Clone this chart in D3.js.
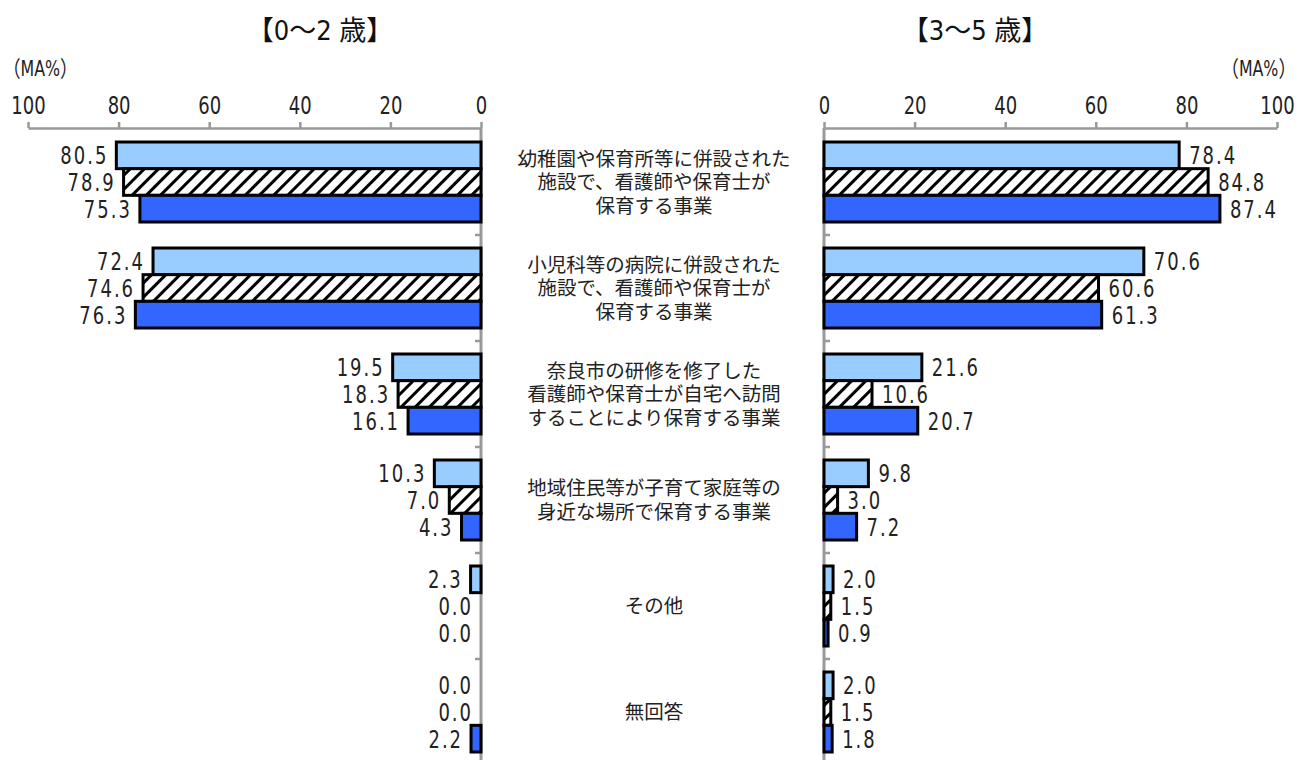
<!DOCTYPE html>
<html>
<head>
<meta charset="utf-8">
<script src="https://cdn.jsdelivr.net/npm/d3@7"></script>
<style>
  body { margin: 0; background: #fff; }
  .num { font-family: "Liberation Sans Narrow", "DejaVu Sans Condensed", "Noto Sans CJK JP", sans-serif; }
  .cat { font-family: "Noto Sans CJK JP", sans-serif; }
</style>
</head>
<body>
<svg id="chart"></svg>
<script>
var categories = [
  ["幼稚園や保育所等に併設された", "施設で、看護師や保育士が", "保育する事業"],
  ["小児科等の病院に併設された", "施設で、看護師や保育士が", "保育する事業"],
  ["奈良市の研修を修了した", "看護師や保育士が自宅へ訪問", "することにより保育する事業"],
  ["地域住民等が子育て家庭等の", "身近な場所で保育する事業"],
  ["その他"],
  ["無回答"]
];
var series = ["s1", "s2", "s3"];
var ticks = [0, 20, 40, 60, 80, 100];

// 0~2歳
var left1 = [80.5, 72.4, 19.5, 10.3, 2.3, 0.0];
var left2 = [78.9, 74.6, 18.3, 7.0, 0.0, 0.0];
var left3 = [75.3, 76.3, 16.1, 4.3, 0.0, 2.2];
// 3~5歳
var right1 = [78.4, 70.6, 21.6, 9.8, 2.0, 2.0];
var right2 = [84.8, 60.6, 10.6, 3.0, 1.5, 1.5];
var right3 = [87.4, 61.3, 20.7, 7.2, 0.9, 1.8];

var fills = {s1: "#99ccff", s2: "url(#hatch)", s3: "#3366ff"};
var narrow = 0.8;

var svg = d3.select("#chart").attr("width", 1298).attr("height", 760);

var defs = svg.append("defs");
var pat = defs.append("pattern")
  .attr("id", "hatch")
  .attr("patternUnits", "userSpaceOnUse")
  .attr("width", 10).attr("height", 10)
  .attr("patternTransform", "rotate(45)");
pat.append("rect").attr("width", 10).attr("height", 10).attr("fill", "#fff");
pat.append("line").attr("x1", 0).attr("y1", 0).attr("x2", 0).attr("y2", 10)
  .attr("stroke", "#000").attr("stroke-width", 6);

var y0 = d3.scaleBand().domain(d3.range(categories.length)).range([129, 765]);
var y1 = d3.scaleBand().domain(series).range([13, 93]);

var xL = d3.scaleLinear().domain([0, 100]).range([481, 28]);
var xR = d3.scaleLinear().domain([0, 100]).range([824, 1277]);

function rows(a, b, c) {
  var out = [];
  categories.forEach(function(cat, i){
    out.push({cat: i, s: "s1", v: a[i]});
    out.push({cat: i, s: "s2", v: b[i]});
    out.push({cat: i, s: "s3", v: c[i]});
  });
  return out;
}

function panel(x, data, side) {
  // top axis
  var ax = svg.append("g")
    .attr("transform", "translate(0,128)")
    .call(d3.axisTop(x).tickValues(ticks).tickSize(6).tickPadding(8).tickSizeOuter(0));
  ax.select(".domain").attr("stroke", "#999").attr("stroke-width", 2.5);
  ax.selectAll(".tick line").attr("stroke", "#999").attr("stroke-width", 2.5);
  ax.selectAll(".tick text").attr("class", "num").attr("font-size", 25).attr("fill", "#222")
    .attr("transform", "scale(" + narrow + ",1)");

  // vertical axis
  var vx = x(0);
  var g = svg.append("g");
  g.append("line").attr("x1", vx).attr("x2", vx).attr("y1", 128).attr("y2", 765)
    .attr("stroke", "#999").attr("stroke-width", 3);
  var dir = side === "left" ? -6 : 6;
  g.selectAll(".vt").data(y0.domain().slice(1)).enter().append("line")
    .attr("x1", vx).attr("x2", vx + dir)
    .attr("y1", function(d){ return y0(d); })
    .attr("y2", function(d){ return y0(d); })
    .attr("stroke", "#999").attr("stroke-width", 2.5);

  var shown = data.filter(function(d){ return d.v > 0; });
  svg.append("g").selectAll("rect").data(shown).enter().append("rect")
    .attr("x", function(d){ return Math.min(x(0), x(d.v)); })
    .attr("width", function(d){ return Math.abs(x(d.v) - x(0)); })
    .attr("y", function(d){ return y0(d.cat) + y1(d.s); })
    .attr("height", y1.bandwidth())
    .attr("fill", function(d){ return fills[d.s]; })
    .attr("stroke", "#000").attr("stroke-width", 3);

  svg.append("g").selectAll("text").data(data).enter().append("text")
    .attr("class", "num")
    .attr("font-size", 25)
    .attr("letter-spacing", 2.5)
    .attr("fill", "#222")
    .attr("text-anchor", side === "left" ? "end" : "start")
    .attr("transform", function(d){
      var tx = side === "left" ? x(d.v) - 8 : x(d.v) + 10;
      var ty = y0(d.cat) + y1(d.s) + y1.bandwidth() / 2 + 9;
      return "translate(" + tx + "," + ty + ") scale(" + narrow + ",1)";
    })
    .text(function(d){ return d.v.toFixed(1); });
}

panel(xL, rows(left1, left2, left3), "left");
panel(xR, rows(right1, right2, right3), "right");

// category labels (one text per category, lines as tspans)
var lh = 23.5;
svg.append("g").selectAll("text").data(categories).enter().append("text")
  .attr("class", "cat")
  .attr("text-anchor", "middle")
  .attr("font-size", 19.5).attr("fill", "#222")
  .each(function(lines, i){
    var cy = y0(i) + y0.bandwidth() / 2;
    var start = cy - (lines.length - 1) * lh / 2 + 7;
    d3.select(this).selectAll("tspan").data(lines).enter().append("tspan")
      .attr("x", 654)
      .attr("y", function(t, j){ return start + j * lh; })
      .text(function(t){ return t; });
  });

// titles
svg.append("text").attr("class", "num").attr("x", 320).attr("y", 40)
  .attr("text-anchor", "middle").attr("font-size", 27).attr("fill", "#111")
  .text("【0～2 歳】");
svg.append("text").attr("class", "num").attr("x", 975).attr("y", 40)
  .attr("text-anchor", "middle").attr("font-size", 27).attr("fill", "#111")
  .text("【3～5 歳】");
svg.append("text").attr("class", "num").attr("font-size", 22).attr("fill", "#222")
  .attr("transform", "translate(3,76) scale(" + narrow + ",1)").text("（MA%）");
svg.append("text").attr("class", "num").attr("text-anchor", "end")
  .attr("font-size", 22).attr("fill", "#222")
  .attr("transform", "translate(1296,76) scale(" + narrow + ",1)").text("（MA%）");
</script>
</body>
</html>
